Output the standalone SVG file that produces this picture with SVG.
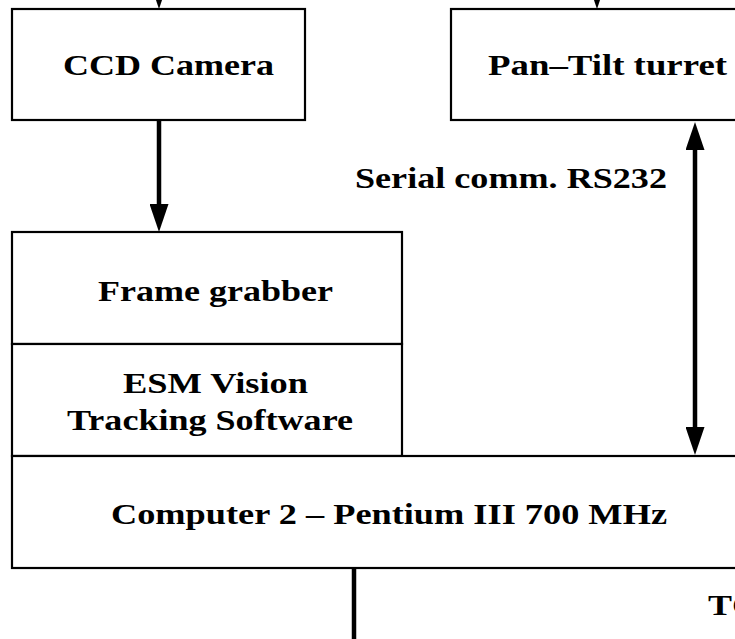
<svg xmlns="http://www.w3.org/2000/svg" width="735" height="639" viewBox="0 0 735 639">
  <style>
    .box { fill: #ffffff; stroke: #000000; stroke-width: 2.2; }
    .lbl { font-family: "Liberation Serif", "Times New Roman", serif; font-weight: bold; font-size: 29px; fill: #000000; }
    .conn { stroke: #000000; stroke-width: 4.5; fill: none; }
  </style>
  <defs>
    <marker id="ah" markerUnits="userSpaceOnUse" markerWidth="28" markerHeight="19" viewBox="0 0 28 19" refX="8" refY="9.5" orient="auto-start-reverse">
      <path d="M0,0 L28,9.5 L0,19 z" fill="#000000"/>
    </marker>
  </defs>
  <rect width="735" height="639" fill="#ffffff"/>

  <g id="ccd-camera">
    <rect class="box" x="12" y="9" width="293" height="111"/>
    <text class="lbl" x="63" y="75" textLength="211" lengthAdjust="spacingAndGlyphs">CCD Camera</text>
  </g>

  <g id="pan-tilt-turret">
    <rect class="box" x="451" y="9" width="320" height="111"/>
    <text class="lbl" x="488" y="75" textLength="239" lengthAdjust="spacingAndGlyphs">Pan–Tilt turret</text>
  </g>

  <g id="frame-grabber">
    <rect class="box" x="12" y="232" width="390" height="112"/>
    <text class="lbl" x="98" y="301" textLength="235" lengthAdjust="spacingAndGlyphs">Frame grabber</text>
  </g>

  <g id="esm-software">
    <rect class="box" x="12" y="344" width="390" height="112"/>
    <text class="lbl" x="123" y="393" textLength="185" lengthAdjust="spacingAndGlyphs">ESM Vision</text>
    <text class="lbl" x="67" y="430" textLength="286" lengthAdjust="spacingAndGlyphs">Tracking Software</text>
  </g>

  <g id="computer-2">
    <rect class="box" x="12" y="456" width="760" height="112"/>
    <text class="lbl" x="111" y="524" textLength="556" lengthAdjust="spacingAndGlyphs">Computer 2 – Pentium III 700 MHz</text>
  </g>

  <g id="connectors">
    <line class="conn" x1="159" y1="-40" x2="159" y2="-11" marker-end="url(#ah)"/>
    <line class="conn" x1="597" y1="-40" x2="597" y2="-11" marker-end="url(#ah)"/>
    <line class="conn" x1="159" y1="120" x2="159" y2="212" marker-end="url(#ah)"/>
    <line class="conn" x1="695" y1="142" x2="695" y2="435" marker-start="url(#ah)" marker-end="url(#ah)"/>
    <line class="conn" x1="354" y1="568" x2="354" y2="645"/>
    <text class="lbl" x="355" y="188" textLength="312" lengthAdjust="spacingAndGlyphs">Serial comm. RS232</text>
    <text class="lbl" x="708" y="615" textLength="50" lengthAdjust="spacingAndGlyphs">TC</text>
  </g>
</svg>
